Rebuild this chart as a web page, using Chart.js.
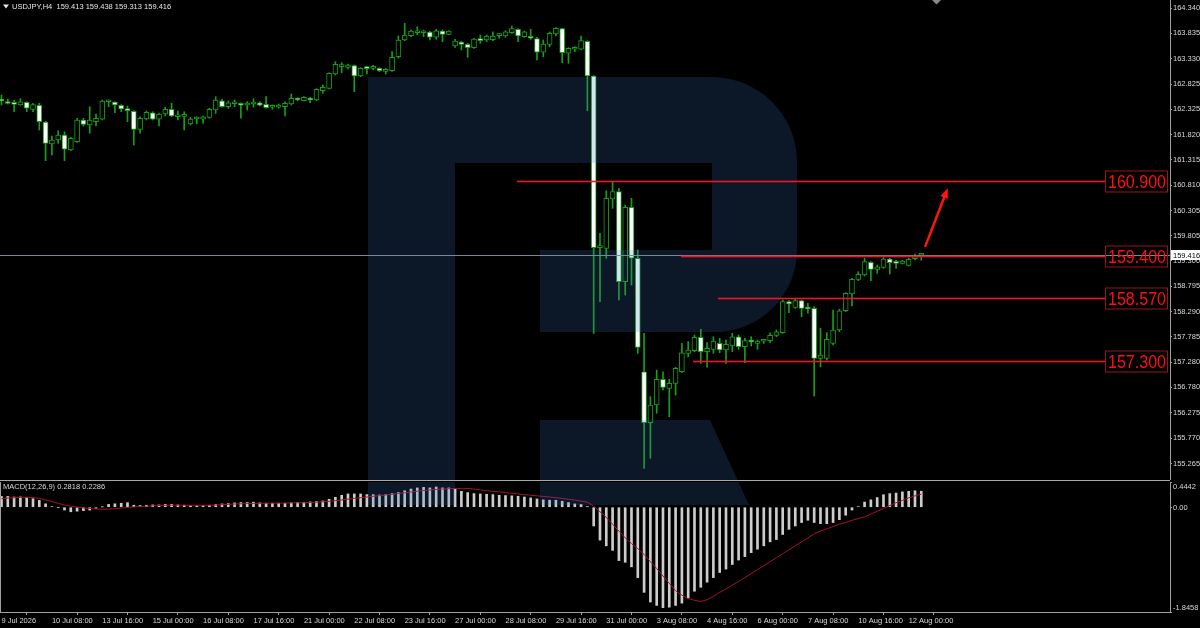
<!DOCTYPE html>
<html lang="en">
<head>
<meta charset="UTF-8">
<title>USDJPY H4</title>
<script src="https://cdn.jsdelivr.net/npm/chart.js"></script>
<style>
  html, body { margin: 0; padding: 0; background: #000; }
  .wrap { position: relative; width: 1200px; height: 628px; overflow: hidden; background: #000; }
  .main { position: absolute; left: 0; top: 0; width: 1200px; height: 480px; }
  .sep { position: absolute; left: 0; top: 480px; width: 1170px; height: 1px; background: #a8a8a8; }
  .macd { position: absolute; left: 0; top: 481px; width: 1200px; height: 147px; }
</style>
</head>
<body>
<div class="wrap">
  <div class="main"><canvas id="main-chart"></canvas></div>
  <div class="sep"></div>
  <div class="macd"><canvas id="macd-chart"></canvas></div>
</div>

<script>
// ---- data (H4 bars, 9 Jul 2026 00:00 .. 12 Aug 2026 08:00) ----
const barOpen = [162.527,162.467,162.453,162.408,162.461,162.322,162.402,162.069,161.630,161.710,
  161.810,161.511,161.676,162.109,162.009,162.075,162.123,162.473,162.467,162.402,
  162.334,162.282,161.923,162.129,162.254,162.123,162.228,162.322,162.174,162.182,
  162.029,162.129,162.123,162.162,162.308,162.493,162.374,162.433,162.428,162.408,
  162.428,162.453,162.421,162.362,162.362,162.374,162.428,162.541,162.493,162.547,
  162.507,162.693,162.740,163.025,163.171,163.159,163.191,162.985,163.139,163.139,
  163.139,163.079,163.091,163.370,163.703,163.789,163.848,163.848,163.862,163.757,
  163.882,163.816,163.583,163.663,163.617,163.549,163.717,163.703,163.710,163.789,
  163.783,163.848,163.916,163.769,163.757,163.729,163.458,163.617,163.822,163.928,
  163.438,163.518,163.518,163.677,162.985,159.564,159.552,160.534,160.680,158.886,
  160.369,159.353,157.093,156.076,156.429,156.941,156.762,156.862,157.093,157.459,
  157.511,157.778,157.491,157.539,157.659,157.525,157.605,157.790,157.591,157.711,
  157.659,157.699,157.711,157.818,157.870,158.488,158.376,158.508,158.356,158.356,
  157.360,157.360,157.659,157.924,158.308,158.641,158.934,159.020,159.273,159.133,
  159.173,159.339,159.265,159.253,159.213,159.345,159.413];
const barHigh = [162.607,162.527,162.507,162.533,162.473,162.441,162.441,162.080,161.790,161.895,
  161.875,161.764,162.143,162.143,162.374,162.228,162.507,162.507,162.473,162.414,
  162.388,162.294,162.174,162.288,162.274,162.242,162.362,162.441,162.288,162.274,
  162.162,162.174,162.188,162.342,162.573,162.521,162.487,162.507,162.453,162.473,
  162.533,162.473,162.573,162.408,162.428,162.473,162.627,162.553,162.573,162.561,
  162.732,162.806,163.051,163.270,163.251,163.225,163.205,163.151,163.171,163.199,
  163.151,163.131,163.470,163.783,164.036,163.902,163.968,163.902,163.876,163.916,
  163.902,163.888,163.717,163.677,163.637,163.737,163.803,163.803,163.868,163.836,
  163.888,163.982,163.928,163.882,163.916,163.757,163.703,163.862,163.948,163.936,
  163.549,163.569,163.783,163.689,162.995,159.851,160.700,160.879,160.748,160.415,
  160.548,159.518,157.858,156.595,157.127,157.093,156.941,157.181,157.659,157.691,
  157.824,157.938,157.671,157.790,157.758,157.724,157.858,157.824,157.758,157.790,
  157.724,157.724,157.870,157.924,158.522,158.508,158.536,158.522,158.456,158.388,
  157.958,157.870,158.322,158.336,158.667,158.954,159.086,159.353,159.285,159.219,
  159.365,159.353,159.319,159.319,159.353,159.438,159.438];
const barLow = [162.408,162.428,162.274,162.402,162.274,162.274,161.909,161.298,161.411,161.644,
  161.298,161.497,161.664,161.989,161.844,161.989,162.109,162.374,162.254,162.274,
  162.075,161.610,161.844,162.109,162.109,161.989,162.188,162.174,162.109,161.909,
  162.009,162.029,162.043,162.143,162.242,162.362,162.342,162.374,162.143,162.308,
  162.362,162.388,162.342,162.322,162.342,162.188,162.408,162.493,162.487,162.453,
  162.493,162.641,162.726,163.005,163.051,163.125,162.673,162.971,163.025,163.105,
  163.071,163.025,163.079,163.338,163.689,163.769,163.803,163.769,163.703,163.717,
  163.669,163.808,163.557,163.504,163.358,163.537,163.637,163.669,163.689,163.737,
  163.757,163.836,163.669,163.757,163.717,163.304,163.370,163.569,163.783,163.251,
  163.239,163.470,163.504,162.294,157.858,158.488,159.353,160.349,158.522,158.621,
  158.820,157.459,155.168,155.367,156.264,156.728,156.196,156.628,157.081,157.391,
  157.491,157.260,157.181,157.459,157.471,157.260,157.491,157.539,157.272,157.605,
  157.539,157.659,157.671,157.790,157.858,158.269,158.356,158.189,158.257,156.609,
  157.192,157.326,157.625,157.890,158.288,158.402,158.906,159.000,158.906,159.054,
  159.153,159.040,159.153,159.239,159.199,159.319,159.313];
const barClose = [162.487,162.437,162.421,162.473,162.342,162.414,162.075,161.644,161.710,161.810,
  161.525,161.744,162.109,162.023,162.109,162.143,162.487,162.487,162.408,162.328,
  162.294,161.923,162.143,162.262,162.123,162.228,162.322,162.188,162.188,162.188,
  162.129,162.143,162.174,162.322,162.507,162.374,162.453,162.441,162.402,162.441,
  162.453,162.402,162.354,162.374,162.408,162.441,162.541,162.507,162.561,162.507,
  162.720,162.760,163.039,163.219,163.185,163.205,162.985,163.139,163.133,163.151,
  163.091,163.119,163.358,163.703,163.803,163.882,163.868,163.862,163.757,163.888,
  163.816,163.882,163.683,163.617,163.549,163.723,163.689,163.783,163.783,163.803,
  163.868,163.928,163.783,163.868,163.737,163.458,163.623,163.836,163.936,163.450,
  163.537,163.537,163.689,162.985,159.564,159.578,160.548,160.680,158.886,160.369,
  159.353,157.579,156.076,156.429,156.941,156.782,156.862,157.161,157.471,157.525,
  157.778,157.491,157.559,157.705,157.525,157.639,157.790,157.591,157.711,157.685,
  157.705,157.711,157.818,157.890,158.488,158.442,158.508,158.356,158.342,157.360,
  157.426,157.738,157.924,158.308,158.655,158.934,159.034,159.285,159.133,159.185,
  159.339,159.265,159.253,159.299,159.333,159.385,159.416];

// MACD(12,26,9): histogram (main) and signal line
const macdMain = [0.19,0.19,0.18,0.18,0.17,0.15,0.12,0.06,0.01,-0.005,
  -0.05,-0.08,-0.07,-0.06,-0.05,-0.02,0.005,0.05,0.06,0.07,
  0.08,0.035,0.03,0.035,0.04,0.04,0.05,0.05,0.04,0.035,
  0.025,0.025,0.03,0.035,0.047,0.058,0.064,0.076,0.082,0.082,
  0.088,0.076,0.07,0.07,0.07,0.07,0.076,0.082,0.088,0.094,
  0.10,0.11,0.14,0.175,0.21,0.234,0.234,0.234,0.222,0.222,
  0.216,0.222,0.24,0.257,0.29,0.32,0.34,0.35,0.34,0.357,
  0.34,0.34,0.316,0.28,0.257,0.24,0.234,0.228,0.222,0.21,
  0.205,0.20,0.193,0.18,0.164,0.146,0.13,0.123,0.123,0.105,
  0.082,0.058,0.047,0.012,-0.33,-0.58,-0.68,-0.76,-0.94,-0.97,
  -1.05,-1.24,-1.50,-1.67,-1.73,-1.77,-1.76,-1.73,-1.69,-1.60,
  -1.48,-1.41,-1.32,-1.24,-1.15,-1.09,-1.01,-0.93,-0.87,-0.80,
  -0.74,-0.68,-0.61,-0.57,-0.48,-0.39,-0.33,-0.27,-0.23,-0.27,
  -0.29,-0.29,-0.27,-0.22,-0.14,-0.05,0.01,0.09,0.13,0.17,
  0.22,0.24,0.25,0.27,0.28,0.29,0.2818];
const macdSignal = [0.150,0.160,0.168,0.173,0.175,0.170,0.155,0.130,0.100,0.068,
  0.040,0.018,0.002,-0.012,-0.022,-0.030,-0.035,-0.033,-0.025,-0.015,
  -0.005,0.005,0.012,0.018,0.024,0.030,0.034,0.036,0.036,0.035,
  0.034,0.033,0.032,0.034,0.038,0.044,0.050,0.056,0.060,0.064,
  0.067,0.069,0.070,0.071,0.072,0.074,0.076,0.078,0.080,0.083,
  0.088,0.095,0.104,0.115,0.128,0.142,0.156,0.168,0.180,0.192,
  0.204,0.216,0.228,0.240,0.254,0.268,0.282,0.294,0.304,0.312,
  0.320,0.326,0.330,0.332,0.330,0.320,0.305,0.290,0.280,0.270,
  0.258,0.246,0.234,0.222,0.210,0.200,0.190,0.180,0.168,0.155,
  0.140,0.125,0.108,0.090,0.020,-0.080,-0.180,-0.300,-0.420,-0.540,
  -0.640,-0.730,-0.830,-0.960,-1.080,-1.210,-1.340,-1.470,-1.550,-1.610,
  -1.640,-1.660,-1.630,-1.570,-1.500,-1.440,-1.370,-1.310,-1.240,-1.170,
  -1.100,-1.030,-0.960,-0.890,-0.820,-0.750,-0.680,-0.610,-0.540,-0.470,
  -0.420,-0.380,-0.340,-0.300,-0.270,-0.230,-0.200,-0.170,-0.120,-0.070,
  -0.020,0.030,0.080,0.120,0.165,0.200,0.2286];

const tickIndex = [0,8,16,24,32,40,48,56,64,72,80,88,96,104,112,120,128,136,144];
const tickText = ['9 Jul 2026','10 Jul 08:00','13 Jul 16:00','15 Jul 00:00','16 Jul 08:00',
  '17 Jul 16:00','21 Jul 00:00','22 Jul 08:00','23 Jul 16:00','27 Jul 00:00','28 Jul 08:00',
  '29 Jul 16:00','31 Jul 00:00','3 Aug 08:00','4 Aug 16:00','6 Aug 00:00','7 Aug 08:00',
  '10 Aug 16:00','12 Aug 00:00'];
const priceTicks = [164.340,163.835,163.330,162.825,162.325,161.820,161.315,160.810,160.305,
  159.805,159.300,158.795,158.290,157.785,157.280,156.780,156.275,155.770,155.265];
const macdTicks = [0.4442, 0, -1.8458];
const macdTickText = ['0.4442', '0.00', '-1.8458'];

// drawn objects: horizontal levels (start bar), the arrow, the bid line
const levelPrice = [160.900, 159.400, 158.570, 157.300];
const levelFrom = [81.8, 107.9, 113.7, 109.8];
const levelTo = 175.2;
const arrowFrom = [146.6, 159.58];
const arrowTo = [150.2, 160.75];
const bidPrice = 159.416;
const titleText = 'USDJPY,H4  159.413 159.438 159.313 159.416';
const macdTitle = 'MACD(12,26,9) 0.2818 0.2286';

// ---- look ----
const green = '#17a017';
const axisGrey = '#a0a0a0';
const textGrey = '#d8d8d8';
const levelRed = '#f01428';
const xMin = -0.238, xMax = 185.48;
Chart.defaults.font.family = '"Liberation Sans", Arial, sans-serif';

function drawLogo(ctx, top) {
    // watermark, page coordinates shifted to the canvas
    ctx.save();
    ctx.translate(0, -top);
    ctx.fillStyle = 'rgba(60, 120, 200, 0.2)';
    ctx.beginPath();
    ctx.moveTo(368, 77);
    ctx.lineTo(712, 77);
    ctx.arcTo(797, 77, 797, 162, 85);
    ctx.lineTo(797, 250);
    ctx.arcTo(797, 332, 715, 332, 82);
    ctx.lineTo(540, 332);
    ctx.lineTo(540, 250);
    ctx.lineTo(712, 250);
    ctx.lineTo(712, 163);
    ctx.lineTo(455, 163);
    ctx.lineTo(455, 505);
    ctx.lineTo(368, 505);
    ctx.closePath();
    ctx.moveTo(540, 420);
    ctx.lineTo(710, 420);
    ctx.lineTo(749, 505);
    ctx.lineTo(540, 505);
    ctx.closePath();
    ctx.fill();
    ctx.restore();
}

function fitText(ctx, text, x, y, w) {
    const m = ctx.measureText(text).width;
    ctx.save();
    ctx.translate(x, y);
    ctx.scale(w / m, 1);
    ctx.fillText(text, 0, 0);
    ctx.restore();
}

const mainOverlay = {
    id: 'mainOverlay',
    afterDatasetsDraw(chart) {
        const { ctx, chartArea: a, scales: { x, y } } = chart;
        ctx.save();
        ctx.beginPath();
        ctx.rect(a.left, a.top, a.width, a.height);
        ctx.clip();
        drawLogo(ctx, 0);

        const by = Math.round(y.getPixelForValue(bidPrice));
        ctx.fillStyle = '#778899';
        ctx.fillRect(a.left, by, a.width, 1);

        levelPrice.forEach((p, k) => {
            const ly = Math.round(y.getPixelForValue(p));
            const x0 = Math.round(x.getPixelForValue(levelFrom[k]));
            const x1 = Math.round(x.getPixelForValue(levelTo));
            ctx.fillStyle = levelRed;
            ctx.fillRect(x0, ly - 0.3, x1 - x0, 1.6);
            ctx.strokeStyle = '#9a1414';
            ctx.lineWidth = 1;
            ctx.strokeRect(x1 + 0.5, ly - 10, 62, 21);
            ctx.fillStyle = '#ff1010';
            ctx.font = '19px "Liberation Sans", Arial, sans-serif';
            ctx.textBaseline = 'middle';
            ctx.textAlign = 'left';
            fitText(ctx, p.toFixed(3), x1 + 3, ly + 1.5, 58);
        });

        // arrow
        const tx = x.getPixelForValue(arrowFrom[0]), ty = y.getPixelForValue(arrowFrom[1]);
        const hx = x.getPixelForValue(arrowTo[0]), hy = y.getPixelForValue(arrowTo[1]);
        const ang = Math.atan2(hy - ty, hx - tx);
        ctx.strokeStyle = '#ff1414';
        ctx.fillStyle = '#ff1414';
        ctx.lineWidth = 2.5;
        ctx.beginPath();
        ctx.moveTo(tx, ty);
        ctx.lineTo(hx - 7 * Math.cos(ang), hy - 7 * Math.sin(ang));
        ctx.stroke();
        ctx.beginPath();
        ctx.moveTo(hx, hy);
        ctx.lineTo(hx - 10 * Math.cos(ang) + 4 * Math.sin(ang), hy - 10 * Math.sin(ang) - 4 * Math.cos(ang));
        ctx.lineTo(hx - 10 * Math.cos(ang) - 4 * Math.sin(ang), hy - 10 * Math.sin(ang) + 4 * Math.cos(ang));
        ctx.closePath();
        ctx.fill();
        ctx.restore();
    },
    afterDraw(chart) {
        const { ctx, chartArea: a, scales: { y } } = chart;
        ctx.save();
        // bid price box on the axis
        const by = Math.round(y.getPixelForValue(bidPrice));
        ctx.fillStyle = '#ffffff';
        ctx.fillRect(a.right + 1, by - 5, 29, 10);
        ctx.fillStyle = '#000000';
        ctx.font = '7.5px "Liberation Sans", Arial, sans-serif';
        ctx.textBaseline = 'middle';
        ctx.textAlign = 'left';
        ctx.fillText(bidPrice.toFixed(3), a.right + 3, by + 0.5);

        // title
        ctx.fillStyle = '#e6e6e6';
        ctx.beginPath();
        ctx.moveTo(3, 4.5); ctx.lineTo(9, 4.5); ctx.lineTo(6, 8.5);
        ctx.closePath();
        ctx.fill();
        ctx.fillText(titleText, 12, 6.5);

        // chart shift marker
        ctx.fillStyle = '#8a8a8a';
        ctx.beginPath();
        ctx.moveTo(932, 0); ctx.lineTo(941, 0); ctx.lineTo(936.5, 4.5);
        ctx.closePath();
        ctx.fill();
        ctx.restore();
    }
};

const macdOverlay = {
    id: 'macdOverlay',
    afterDatasetsDraw(chart) {
        const { ctx, chartArea: a } = chart;
        ctx.save();
        ctx.beginPath();
        ctx.rect(a.left, a.top, a.width, a.height);
        ctx.clip();
        drawLogo(ctx, 481);
        ctx.restore();
    },
    afterDraw(chart) {
        const { ctx, chartArea: a, scales: { y } } = chart;
        ctx.save();
        ctx.fillStyle = axisGrey;
        ctx.fillRect(0, a.top, 1, a.bottom - a.top);

        ctx.font = '7.5px "Liberation Sans", Arial, sans-serif';
        ctx.fillStyle = textGrey;
        ctx.textAlign = 'left';
        ctx.textBaseline = 'middle';
        ctx.fillText(macdTitle, 3, 5.5);

        macdTicks.forEach((v, k) => {
            let py = y.getPixelForValue(v);
            if (k === 0) py += 4.5;
            else if (k === macdTicks.length - 1) py -= 4;
            else py += 0.5;
            ctx.fillText(macdTickText[k], a.right + 3, py);
        });
        ctx.restore();
    }
};

document.addEventListener('DOMContentLoaded', function () {
    const bodies = barOpen.map((o, i) => ({ x: i, y: [o, barClose[i]] }));
    const wicks = barLow.map((l, i) => ({ x: i, y: [l, barHigh[i]] }));

    new Chart(document.getElementById('main-chart').getContext('2d'), {
        type: 'bar',
        data: {
            datasets: [{
                label: 'wick',
                data: wicks,
                backgroundColor: green,
                borderWidth: 0,
                barThickness: 1,
                grouped: false,
                order: 2
            }, {
                label: 'body',
                data: bodies,
                backgroundColor: c => barClose[c.dataIndex] < barOpen[c.dataIndex] ? '#ffffff' : '#000000',
                borderColor: green,
                borderWidth: 1,
                borderSkipped: false,
                barThickness: 5,
                minBarLength: 2,
                grouped: false,
                order: 1
            }]
        },
        options: {
            responsive: true,
            maintainAspectRatio: false,
            animation: false,
            events: [],
            layout: { padding: 0 },
            plugins: { legend: { display: false }, tooltip: { enabled: false } },
            scales: {
                x: { type: 'linear', min: xMin, max: xMax, offset: false, display: false },
                y: {
                    position: 'right',
                    min: 154.935,
                    max: 164.50,
                    afterBuildTicks: s => { s.ticks = priceTicks.map(v => ({ value: v })); },
                    afterFit: s => { s.width = 30; s.paddingTop = 0; s.paddingBottom = 0; },
                    ticks: {
                        autoSkip: false,
                        padding: 1,
                        color: textGrey,
                        font: { size: 7.5 },
                        callback: v => v.toFixed(3)
                    },
                    grid: { display: true, drawOnChartArea: false, drawTicks: true, tickLength: 2, color: axisGrey },
                    border: { display: true, color: axisGrey }
                }
            }
        },
        plugins: [mainOverlay]
    });

    new Chart(document.getElementById('macd-chart').getContext('2d'), {
        type: 'bar',
        data: {
            datasets: [{
                type: 'bar',
                label: 'MACD',
                data: macdMain.map((v, i) => ({ x: i, y: v })),
                backgroundColor: '#cccccc',
                barThickness: 2,
                grouped: false,
                order: 2
            }, {
                type: 'line',
                label: 'Signal',
                data: macdSignal.map((v, i) => ({ x: i, y: v })),
                borderColor: '#a3122a',
                borderWidth: 1,
                pointRadius: 0,
                tension: 0,
                order: 1
            }]
        },
        options: {
            responsive: true,
            maintainAspectRatio: false,
            animation: false,
            events: [],
            layout: { padding: { top: 1 } },
            plugins: { legend: { display: false }, tooltip: { enabled: false } },
            scales: {
                x: {
                    type: 'linear',
                    min: xMin,
                    max: xMax,
                    offset: false,
                    afterBuildTicks: s => { s.ticks = tickIndex.map(v => ({ value: v })); },
                    afterFit: s => { s.height = 16; s.paddingLeft = 0; s.paddingRight = 0; },
                    ticks: {
                        autoSkip: false,
                        maxRotation: 0,
                        align: 'start',
                        padding: 1,
                        color: textGrey,
                        font: { size: 7.5 },
                        callback: v => tickText[tickIndex.indexOf(v)]
                    },
                    grid: { display: true, drawOnChartArea: false, drawTicks: true, tickLength: 3, color: axisGrey },
                    border: { display: true, color: axisGrey }
                },
                y: {
                    position: 'right',
                    min: -1.8458,
                    max: 0.4442,
                    afterBuildTicks: s => { s.ticks = macdTicks.map(v => ({ value: v })); },
                    afterFit: s => { s.width = 30; s.paddingTop = 0; s.paddingBottom = 0; },
                    ticks: { display: false },
                    grid: { display: true, drawOnChartArea: false, drawTicks: true, tickLength: 2, color: axisGrey },
                    border: { display: true, color: axisGrey }
                }
            }
        },
        plugins: [macdOverlay]
    });
});
</script>
</body>
</html>
